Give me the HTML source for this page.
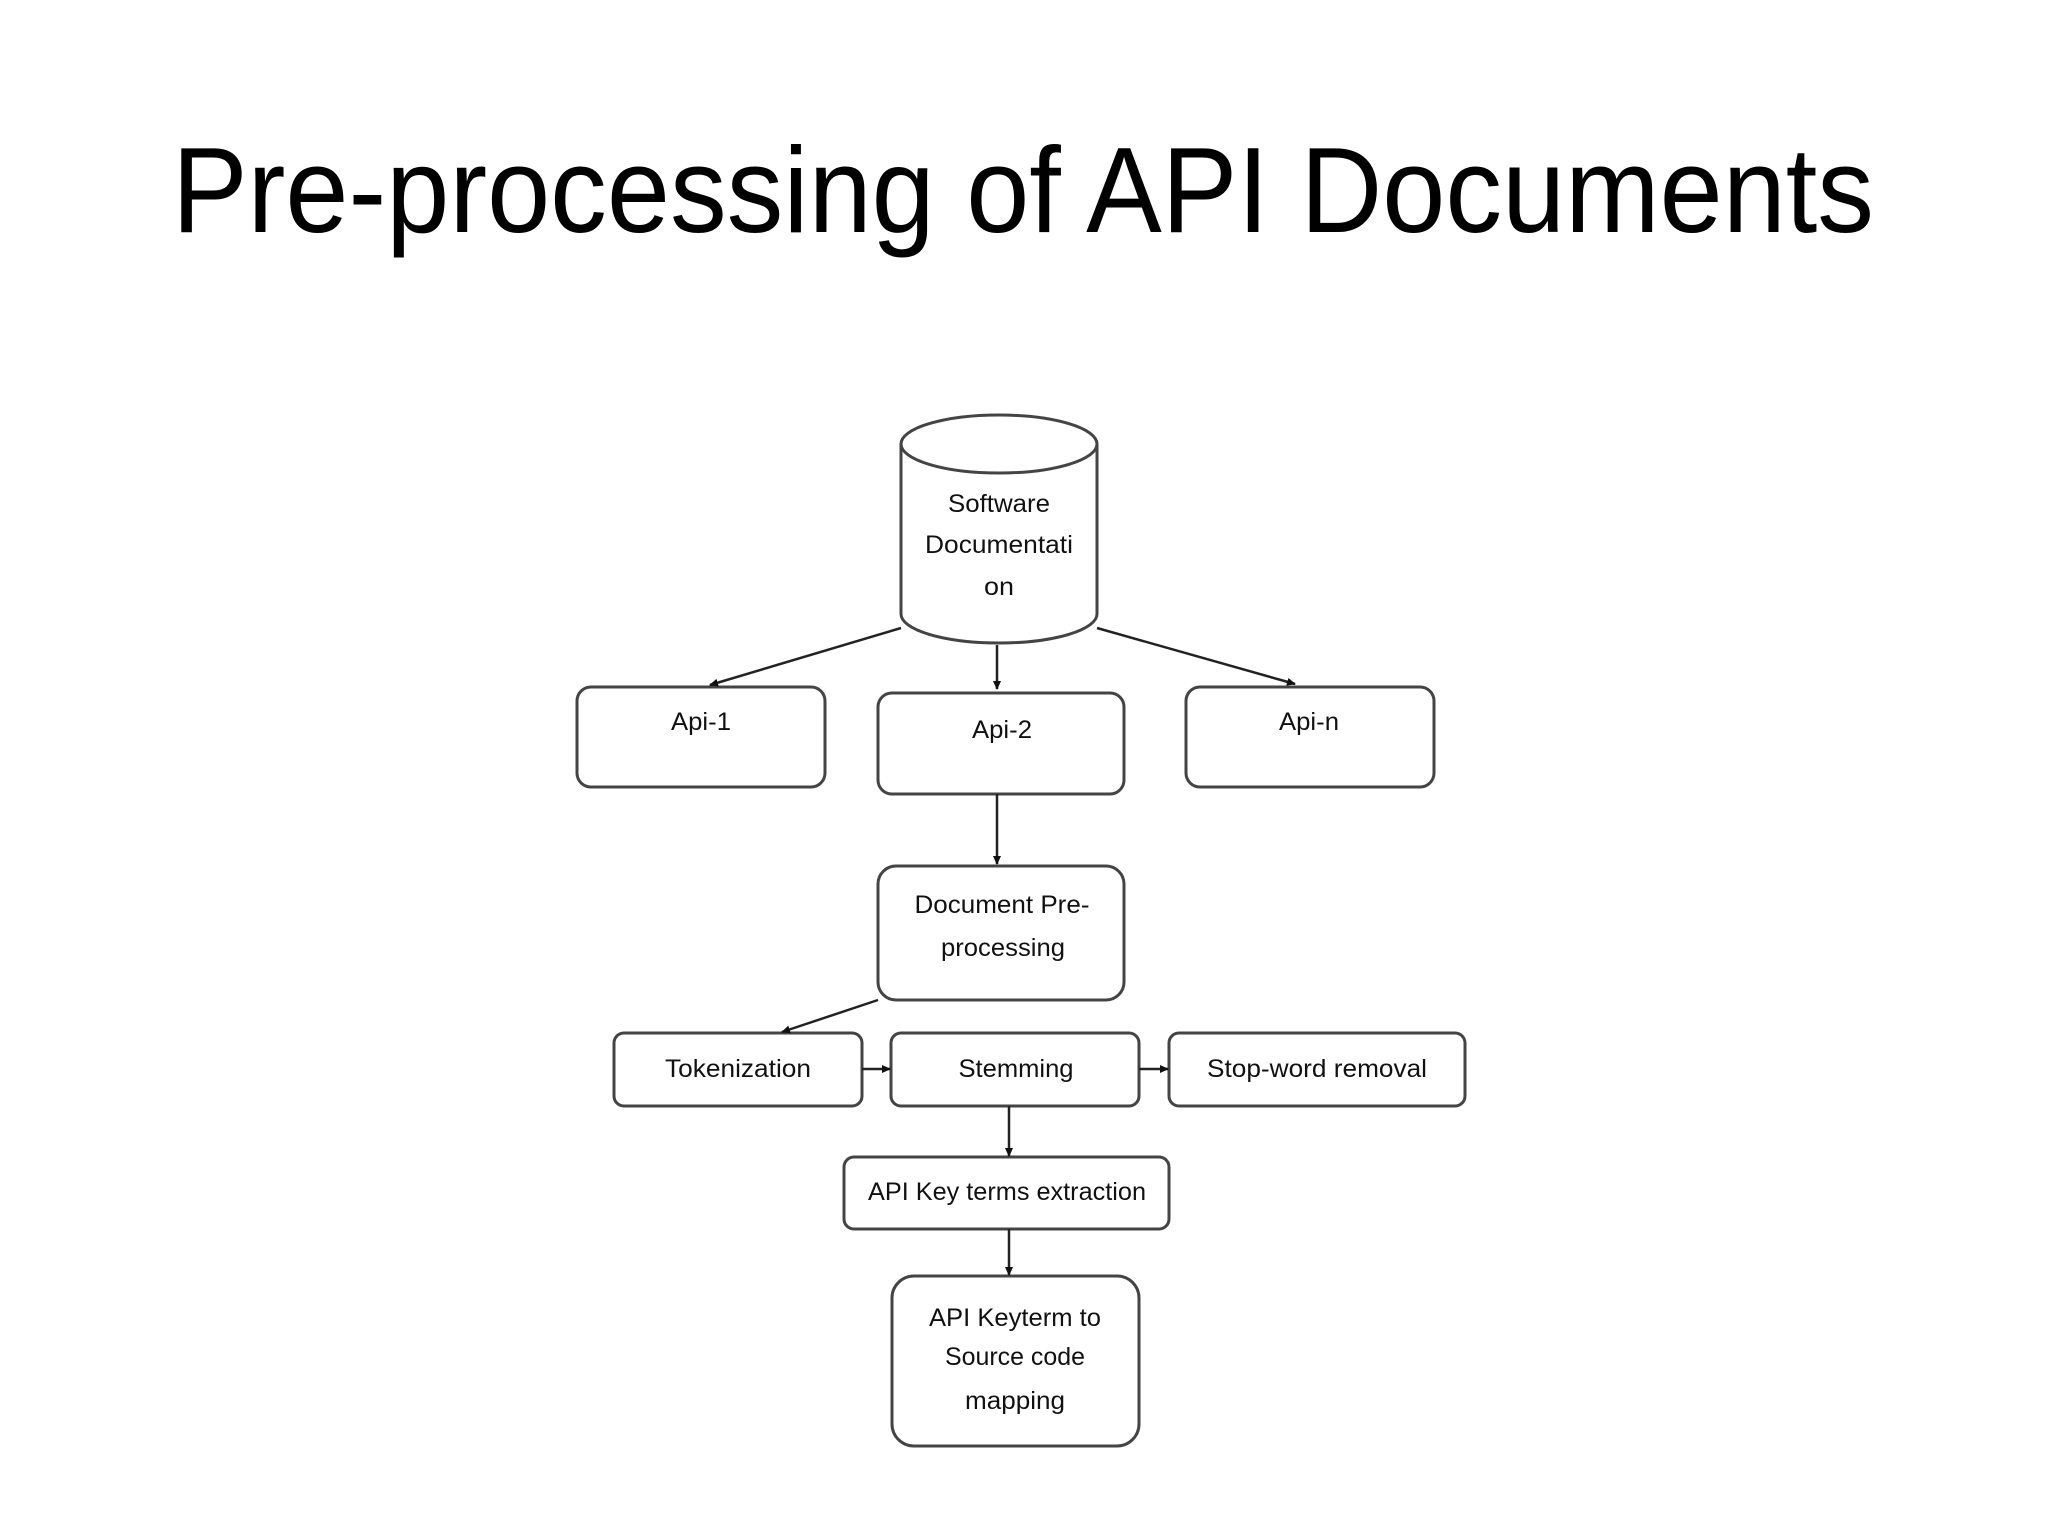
<!DOCTYPE html>
<html><head><meta charset="utf-8"><style>
html,body{margin:0;padding:0;background:#fff;}
svg{display:block}
</style></head><body>
<svg width="2048" height="1536" viewBox="0 0 2048 1536" xmlns="http://www.w3.org/2000/svg">
<defs>
<marker id="ah" markerWidth="10" markerHeight="10" refX="8" refY="5" orient="auto" markerUnits="userSpaceOnUse">
<path d="M0,1 L9,5 L0,9 z" fill="#111"/>
</marker>
</defs>
<rect width="2048" height="1536" fill="#fff"/>
<text x="1023" y="232" font-family="Liberation Sans, Arial, sans-serif" font-size="122" text-anchor="middle" fill="#000" textLength="1702" lengthAdjust="spacingAndGlyphs">Pre-processing of API Documents</text>
<g fill="#fff" stroke="#444" stroke-width="3">
<path d="M901,444 L901,614 A98,29 0 0 0 1097,614 L1097,444"/>
<ellipse cx="999" cy="444" rx="98" ry="29"/>
<rect x="577" y="687" width="248" height="100" rx="14"/>
<rect x="878" y="693" width="246" height="101" rx="14"/>
<rect x="1186" y="687" width="248" height="100" rx="14"/>
<rect x="878" y="866" width="246" height="134" rx="18"/>
<rect x="614" y="1033" width="248" height="73" rx="10"/>
<rect x="891" y="1033" width="248" height="73" rx="10"/>
<rect x="1169" y="1033" width="296" height="73" rx="10"/>
<rect x="844" y="1157" width="325" height="72" rx="10"/>
<rect x="892" y="1276" width="247" height="170" rx="22"/>
</g>
<g stroke="#222" stroke-width="2.5" fill="none" marker-end="url(#ah)">
<line x1="901" y1="628" x2="710" y2="685"/>
<line x1="997" y1="645" x2="997" y2="689"/>
<line x1="1097" y1="628" x2="1295" y2="684"/>
<line x1="997" y1="794" x2="997" y2="864"/>
<line x1="878" y1="1000" x2="782" y2="1032"/>
<line x1="862" y1="1069" x2="890" y2="1069"/>
<line x1="1139" y1="1069" x2="1168" y2="1069"/>
<line x1="1009" y1="1106" x2="1009" y2="1156"/>
<line x1="1009" y1="1229" x2="1009" y2="1275"/>
</g>
<g font-family="Liberation Sans, Arial, sans-serif" font-size="25" fill="#111" text-anchor="middle" lengthAdjust="spacingAndGlyphs">
<text x="999" y="512" textLength="102" lengthAdjust="spacingAndGlyphs">Software</text>
<text x="999" y="553" textLength="148" lengthAdjust="spacingAndGlyphs">Documentati</text>
<text x="999" y="595" textLength="30" lengthAdjust="spacingAndGlyphs">on</text>
<text x="701" y="730" textLength="60" lengthAdjust="spacingAndGlyphs">Api-1</text>
<text x="1002" y="738" textLength="60" lengthAdjust="spacingAndGlyphs">Api-2</text>
<text x="1309" y="730" textLength="60" lengthAdjust="spacingAndGlyphs">Api-n</text>
<text x="1002" y="913" textLength="175" lengthAdjust="spacingAndGlyphs">Document Pre-</text>
<text x="1003" y="956" textLength="124" lengthAdjust="spacingAndGlyphs">processing</text>
<text x="738" y="1077" textLength="146" lengthAdjust="spacingAndGlyphs">Tokenization</text>
<text x="1016" y="1077" textLength="115" lengthAdjust="spacingAndGlyphs">Stemming</text>
<text x="1317" y="1077" textLength="220" lengthAdjust="spacingAndGlyphs">Stop-word removal</text>
<text x="1007" y="1200" textLength="278" lengthAdjust="spacingAndGlyphs">API Key terms extraction</text>
<text x="1015" y="1326" textLength="172" lengthAdjust="spacingAndGlyphs">API Keyterm to</text>
<text x="1015" y="1365" textLength="140" lengthAdjust="spacingAndGlyphs">Source code</text>
<text x="1015" y="1409" textLength="100" lengthAdjust="spacingAndGlyphs">mapping</text>
</g>
</svg>
</body></html>
